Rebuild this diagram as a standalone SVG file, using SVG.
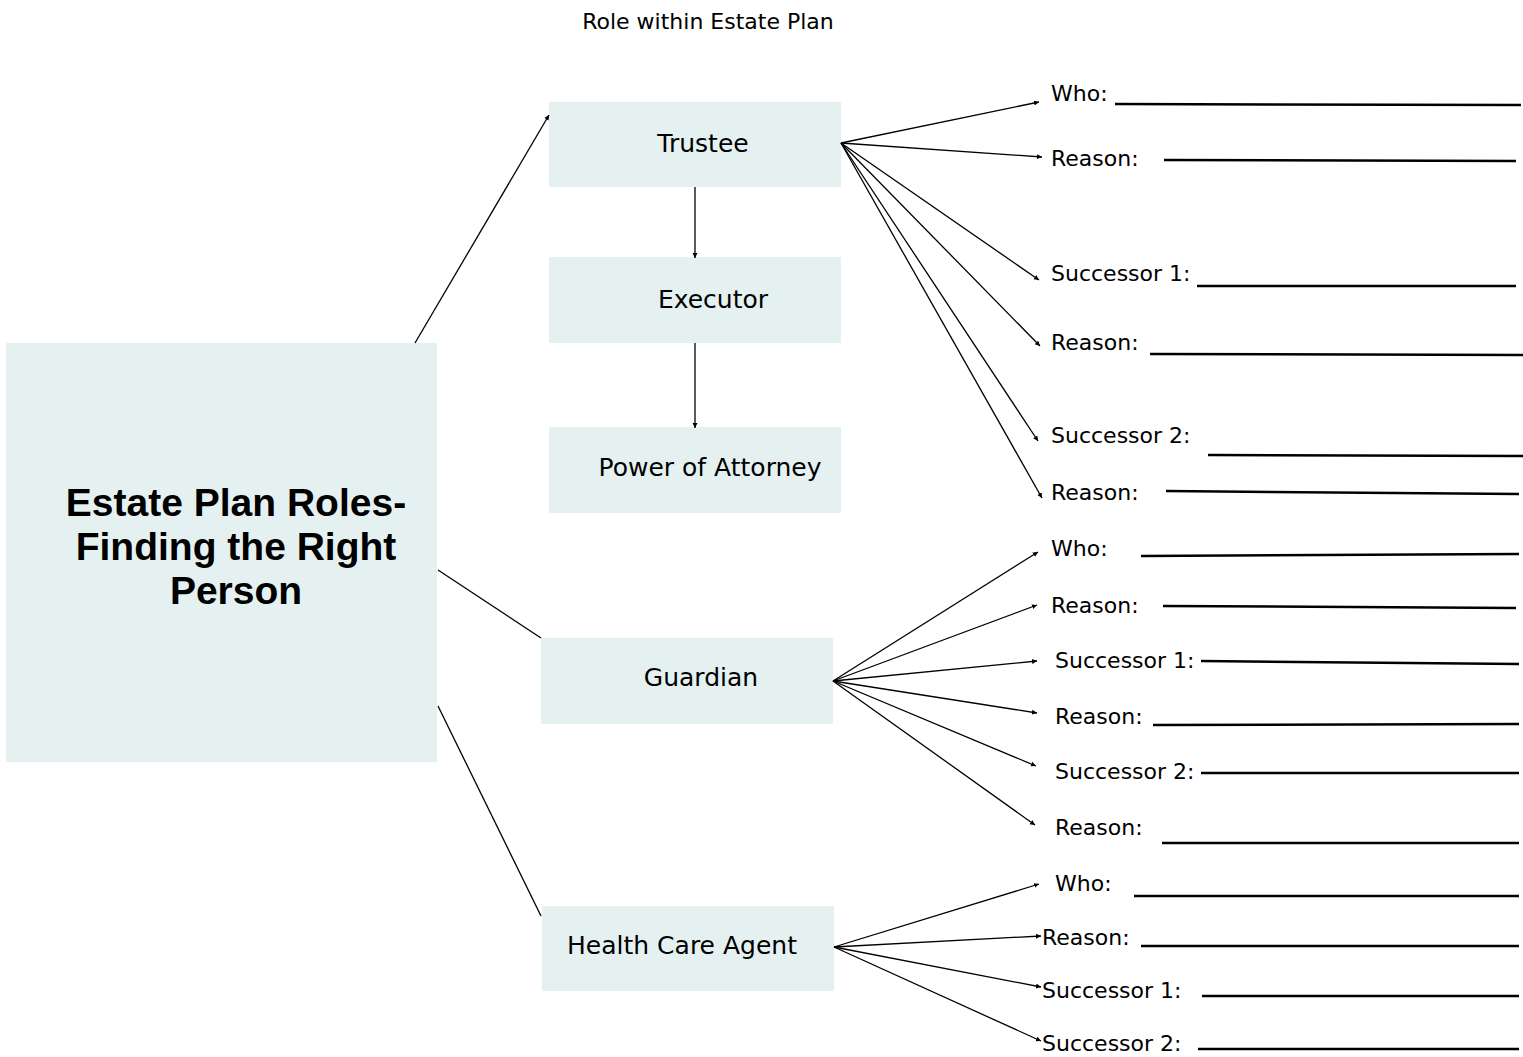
<svg xmlns="http://www.w3.org/2000/svg" width="1523" height="1057" viewBox="0 0 1523 1057">
<style>
.box{fill:#E5F1F1}
.lbl{font-family:"DejaVu Sans",sans-serif;font-size:25px;fill:#000;text-anchor:middle}
.itm{font-family:"DejaVu Sans",sans-serif;font-size:22px;fill:#000}
.ttl{font-family:"Liberation Sans",Arial,sans-serif;font-size:39px;font-weight:bold;fill:#000;text-anchor:middle}
.con{stroke:#000;stroke-width:1.3;fill:none}
.arr{marker-end:url(#ah)}
.ul{stroke:#000;stroke-width:2.5}
</style>
<defs>
<marker id="ah" markerWidth="6" markerHeight="6" refX="5" refY="3" orient="auto" markerUnits="userSpaceOnUse">
<path d="M0,0.5 L5,3 L0,5.5 z" fill="#000"/>
</marker>
</defs>
<rect width="1523" height="1057" fill="#fff"/>
<text class="itm" x="708" y="29" text-anchor="middle" font-size="21">Role within Estate Plan</text>

<g id="central">
<rect class="box" x="6" y="343" width="431" height="419"/>
<text class="ttl" x="236" y="516">Estate Plan Roles-</text>
<text class="ttl" x="236" y="560">Finding the Right</text>
<text class="ttl" x="236" y="604">Person</text>
</g>
<g id="trustee"><rect class="box" x="549" y="102" width="292" height="85"/><text class="lbl" x="703" y="152">Trustee</text></g>
<g id="executor"><rect class="box" x="549" y="257" width="292" height="86"/><text class="lbl" x="713" y="308">Executor</text></g>
<g id="poa"><rect class="box" x="549" y="427" width="292" height="86"/><text class="lbl" x="710" y="476">Power of Attorney</text></g>
<g id="guardian"><rect class="box" x="541" y="638" width="292" height="86"/><text class="lbl" x="701" y="686">Guardian</text></g>
<g id="hca"><rect class="box" x="542" y="906" width="292" height="85"/><text class="lbl" x="682" y="954">Health Care Agent</text></g>

<g id="connectors">
<line class="con arr" x1="415" y1="343" x2="549" y2="115"/>
<line class="con" x1="438" y1="570" x2="541" y2="638"/>
<line class="con" x1="438" y1="706" x2="541" y2="916"/>
<line class="con arr" x1="695" y1="187" x2="695" y2="258"/>
<line class="con arr" x1="695" y1="343" x2="695" y2="428"/>
<line class="con arr" x1="841" y1="143" x2="1039" y2="102"/>
<line class="con arr" x1="841" y1="143" x2="1042" y2="157"/>
<line class="con arr" x1="841" y1="143" x2="1039" y2="280"/>
<line class="con arr" x1="841" y1="143" x2="1040" y2="346"/>
<line class="con arr" x1="841" y1="143" x2="1038" y2="441"/>
<line class="con arr" x1="841" y1="143" x2="1042" y2="498"/>
<line class="con arr" x1="833" y1="681" x2="1038" y2="552"/>
<line class="con arr" x1="833" y1="681" x2="1037" y2="605"/>
<line class="con arr" x1="833" y1="681" x2="1037" y2="661"/>
<line class="con arr" x1="833" y1="681" x2="1037" y2="713"/>
<line class="con arr" x1="833" y1="681" x2="1036" y2="766"/>
<line class="con arr" x1="833" y1="681" x2="1035" y2="825"/>
<line class="con arr" x1="834" y1="947" x2="1039" y2="884"/>
<line class="con arr" x1="834" y1="947" x2="1041" y2="936"/>
<line class="con arr" x1="834" y1="947" x2="1041" y2="987"/>
<line class="con arr" x1="834" y1="947" x2="1041" y2="1041"/>
</g>

<g id="fields">
<text class="itm" x="1051" y="101">Who:</text><line class="ul" x1="1115" y1="104" x2="1521" y2="105"/>
<text class="itm" x="1051" y="166">Reason:</text><line class="ul" x1="1164" y1="160" x2="1516" y2="161"/>
<text class="itm" x="1051" y="281">Successor 1:</text><line class="ul" x1="1197" y1="286" x2="1516" y2="286"/>
<text class="itm" x="1051" y="350">Reason:</text><line class="ul" x1="1150" y1="354" x2="1523" y2="355"/>
<text class="itm" x="1051" y="443">Successor 2:</text><line class="ul" x1="1208" y1="455" x2="1523" y2="456"/>
<text class="itm" x="1051" y="500">Reason:</text><line class="ul" x1="1166" y1="491" x2="1519" y2="494"/>
<text class="itm" x="1051" y="556">Who:</text><line class="ul" x1="1141" y1="556" x2="1519" y2="554"/>
<text class="itm" x="1051" y="613">Reason:</text><line class="ul" x1="1163" y1="606" x2="1516" y2="608"/>
<text class="itm" x="1055" y="668">Successor 1:</text><line class="ul" x1="1201" y1="661" x2="1519" y2="664"/>
<text class="itm" x="1055" y="724">Reason:</text><line class="ul" x1="1153" y1="725" x2="1519" y2="724"/>
<text class="itm" x="1055" y="779">Successor 2:</text><line class="ul" x1="1201" y1="773" x2="1519" y2="773"/>
<text class="itm" x="1055" y="835">Reason:</text><line class="ul" x1="1162" y1="843" x2="1519" y2="843"/>
<text class="itm" x="1055" y="891">Who:</text><line class="ul" x1="1134" y1="896" x2="1519" y2="896"/>
<text class="itm" x="1042" y="945">Reason:</text><line class="ul" x1="1141" y1="946" x2="1519" y2="946"/>
<text class="itm" x="1042" y="998">Successor 1:</text><line class="ul" x1="1202" y1="996" x2="1519" y2="996"/>
<text class="itm" x="1042" y="1051">Successor 2:</text><line class="ul" x1="1198" y1="1049" x2="1519" y2="1049"/>
</g>
</svg>
